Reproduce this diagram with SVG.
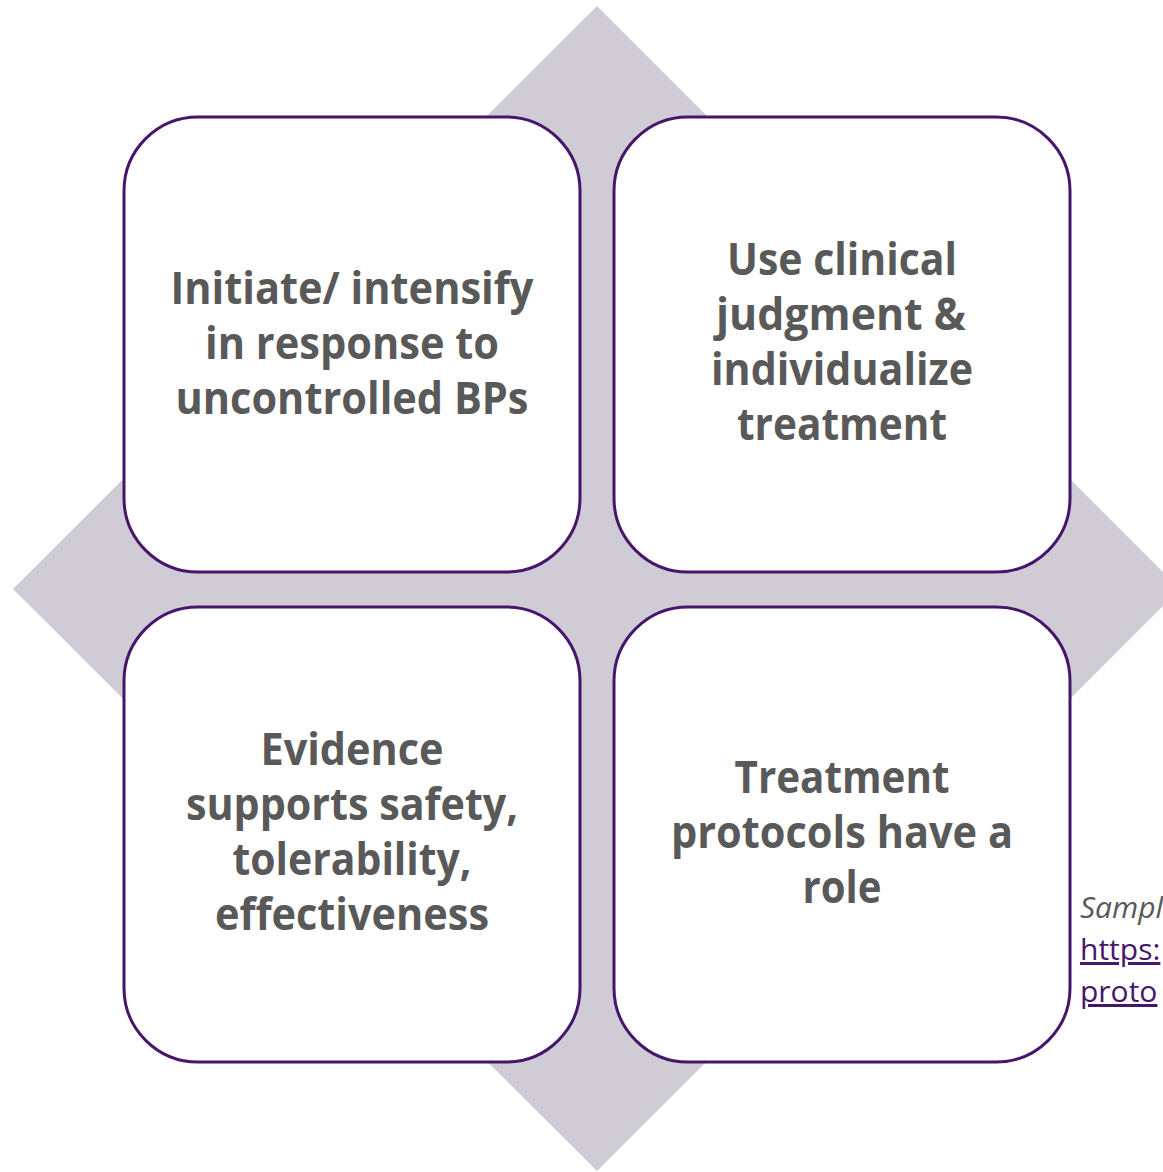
<svg xmlns="http://www.w3.org/2000/svg" width="1163" height="1172" viewBox="0 0 1163 1172">
<style>
.box{fill:#ffffff;stroke:#46166b;stroke-width:3}
.t{font-family:"Open Sans","Liberation Sans",sans-serif;font-weight:bold;font-size:44px;fill:#595959;text-anchor:middle}
.note{font-family:"Open Sans","Liberation Sans",sans-serif;font-size:30px}
.link{fill:#46166b;text-decoration:underline}
</style>
<rect width="1163" height="1172" fill="#ffffff"/>
<polygon points="597,6 1180,589 597,1171 13,589" fill="#cfccd6"/>
<g id="connectors"></g>
<g id="node-tl">
<rect class="box" x="124" y="117" width="456" height="455" rx="74" ry="74"/>
<text class="t" x="352" y="304" textLength="363" lengthAdjust="spacingAndGlyphs">Initiate/ intensify</text>
<text class="t" x="352" y="359" textLength="294" lengthAdjust="spacingAndGlyphs">in response to</text>
<text class="t" x="352" y="414" textLength="353" lengthAdjust="spacingAndGlyphs">uncontrolled BPs</text>
</g>
<g id="node-tr">
<rect class="box" x="614" y="117" width="456" height="455" rx="74" ry="74"/>
<text class="t" x="842" y="275" textLength="230" lengthAdjust="spacingAndGlyphs">Use clinical</text>
<text class="t" x="841" y="330" textLength="250" lengthAdjust="spacingAndGlyphs">judgment &amp;</text>
<text class="t" x="842" y="385" textLength="262" lengthAdjust="spacingAndGlyphs">individualize</text>
<text class="t" x="842" y="440" textLength="210" lengthAdjust="spacingAndGlyphs">treatment</text>
</g>
<g id="node-bl">
<rect class="box" x="124" y="607" width="456" height="455" rx="74" ry="74"/>
<text class="t" x="352" y="765" textLength="183" lengthAdjust="spacingAndGlyphs">Evidence</text>
<text class="t" x="352" y="820" textLength="332" lengthAdjust="spacingAndGlyphs">supports safety,</text>
<text class="t" x="352" y="875" textLength="239" lengthAdjust="spacingAndGlyphs">tolerability,</text>
<text class="t" x="352" y="930" textLength="274" lengthAdjust="spacingAndGlyphs">effectiveness</text>
</g>
<g id="node-br">
<rect class="box" x="614" y="607" width="456" height="455" rx="74" ry="74"/>
<text class="t" x="842" y="793" textLength="215" lengthAdjust="spacingAndGlyphs">Treatment</text>
<text class="t" x="842" y="848" textLength="342" lengthAdjust="spacingAndGlyphs">protocols have a</text>
<text class="t" x="842" y="903" textLength="79" lengthAdjust="spacingAndGlyphs">role</text>
</g>
<g id="footnote">
<text class="note" x="1080" y="918" fill="#595959" font-style="italic">Sampl</text>
<text class="note link" x="1080" y="960">https:</text>
<text class="note link" x="1080" y="1002">proto</text>
</g>
</svg>
